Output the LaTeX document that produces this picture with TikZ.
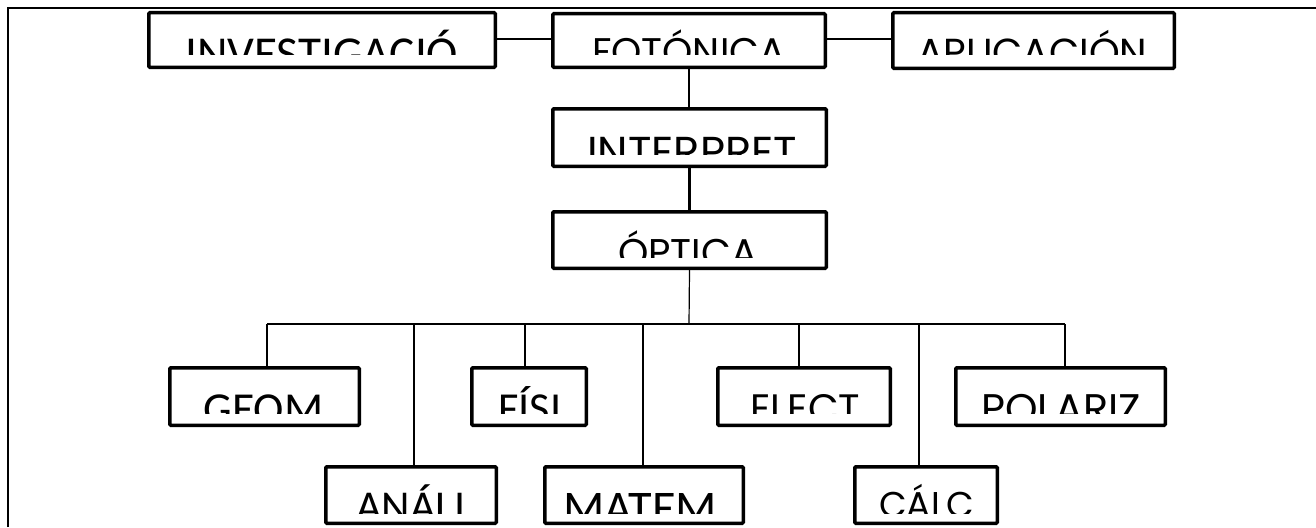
\documentclass[tikz,border=0pt]{standalone}
\usepackage{fontspec}
\setmainfont{Carlito}
\newfontfamily\popfont{Poppins}
\newfontfamily\calfont{Carlito}
\newdimen\twd
\newdimen\tch
% measure (outside the picture): #1 name, #2 font, #3 text, #4 x left, #5 x right, #6 y cap top
\newcommand\prep[6]{%
  \setbox0=\hbox{#2#3}\twd=\wd0
  \setbox0=\hbox{#2H}\tch=\ht0
  \pgfmathsetmacro\tsc{(#5-#4)/\the\twd}%
  \pgfmathsetmacro\tbase{#6+\the\tch*\tsc}%
  \expandafter\xdef\csname sc@#1\endcsname{\tsc}%
  \expandafter\xdef\csname bs@#1\endcsname{\tbase}}
% draw: #1 name, #2 font, #3 text, #4 x left, #5 x right, #6 y cap top, #7 y clip
\newcommand\cliptext[7]{%
  \begin{scope}
    \clip (#4-12,#6-26) rectangle (#5+12,#7);
    \node[anchor=base west,inner sep=0pt] (#1) at (#4,\csname bs@#1\endcsname)
      {\scalebox{\csname sc@#1\endcsname}{#2#3}};
  \end{scope}}
% #1 name, #2 x left, #3 x right, #4 y top, #5 y bottom
\newcommand\boxat[5]{%
  \node[box,minimum width={(#3-#2-3.5)*1pt},minimum height={(#5-#4-3.5)*1pt}]
    (#1) at ({(#2+#3)/2},{(#4+#5)/2}) {};}
\tikzset{
  box/.style={draw,line width=3.5pt,rounded corners=1pt,inner sep=0pt},
  heavy/.style={line width=2.4pt},
  light/.style={line width=1.2pt},
  frame/.style={line width=2pt}
}
\begin{document}
\prep{tinv}{\calfont}{INVESTIGACIÓ}{185}{458}{39}%
\prep{tfot}{\popfont}{FOTÓNICA}{592}{785}{39}%
\prep{tapl}{\popfont}{APLICACIÓN}{917}{1147}{39}%
\prep{tint}{\popfont}{INTERPRET}{587}{797}{137}%
\prep{topt}{\popfont}{ÓPTICA}{618}{757}{240}%
\prep{tgeom}{\calfont}{GEOM}{203}{323}{395}%
\prep{tfis}{\calfont}{FÍSI}{498}{561}{395}%
\prep{telec}{\popfont}{ELECT}{750}{860}{395}%
\prep{tpol}{\popfont}{POLARIZ}{981}{1141}{395}%
\prep{tana}{\calfont}{ANÁLI}{356}{465}{493}%
\prep{tmat}{\calfont}{MATEM}{563}{717}{493}%
\prep{tcalc}{\popfont}{CÁLC}{879}{974}{493}%
\begin{tikzpicture}[x=1pt,y=-1pt]
\useasboundingbox (0,0) rectangle (1316,527);
\draw[frame] (8,527) -- (8,8) -- (1316,8);
% boxes
\boxat{inv}{147}{497}{11}{69}
\boxat{fot}{551}{827}{12}{69}
\boxat{apl}{891}{1176}{11}{70}
\boxat{int}{551}{828}{107}{168}
\boxat{opt}{551}{828}{210}{270}
\boxat{geom}{168}{361}{366}{427}
\boxat{fis}{470}{588}{366}{427}
\boxat{elec}{716}{892}{366}{427}
\boxat{pol}{954}{1167}{366}{427}
\boxat{ana}{324}{498}{465}{525}
\boxat{mat}{543}{745}{465}{525}
\boxat{calc}{853}{999}{465}{525}
% texts (clipped as in the reference)
\cliptext{tinv}{\calfont}{INVESTIGACIÓ}{185}{458}{39}{55}
\cliptext{tfot}{\popfont}{FOTÓNICA}{592}{785}{39}{55}
\cliptext{tapl}{\popfont}{APLICACIÓN}{917}{1147}{39}{55}
\cliptext{tint}{\popfont}{INTERPRET}{587}{797}{137}{154}
\cliptext{topt}{\popfont}{ÓPTICA}{618}{757}{240}{257}
\cliptext{tgeom}{\calfont}{GEOM}{203}{323}{395}{413}
\cliptext{tfis}{\calfont}{FÍSI}{498}{561}{395}{413}
\cliptext{telec}{\popfont}{ELECT}{750}{860}{395}{413}
\cliptext{tpol}{\popfont}{POLARIZ}{981}{1141}{395}{413}
\cliptext{tana}{\calfont}{ANÁLI}{356}{465}{493}{513}
\cliptext{tmat}{\calfont}{MATEM}{563}{717}{493}{513}
\cliptext{tcalc}{\popfont}{CÁLC}{879}{974}{493}{513}
% top row connectors
\draw[heavy] (inv.east |- 0,39) -- (fot.west |- 0,39);
\draw[heavy] (fot.east |- 0,39) -- (apl.west |- 0,39);
% vertical chain
\draw[heavy] (fot.south) -- (fot.south |- int.north);
\draw[heavy] (int.south) -- (int.south |- opt.north);
\coordinate (hub) at (689,324);
\draw[light] (opt.south) -- (hub);
% bus
\coordinate (bgeom) at (267,324);
\coordinate (bana) at (414,324);
\coordinate (bfis) at (525,324);
\coordinate (bmat) at (643,324);
\coordinate (belec) at (799,324);
\coordinate (bcalc) at (919,324);
\coordinate (bpol) at (1065,324);
\draw[light] (bgeom) -- (hub);
\draw[heavy] (hub) -- (bpol);
% branches
\draw[heavy] (bgeom) -- (bgeom |- geom.north);
\draw[light] (bana) -- (bana |- ana.north);
\draw[heavy] (bfis) -- (bfis |- fis.north);
\draw[light] (bmat) -- (bmat |- mat.north);
\draw[heavy] (belec) -- (belec |- elec.north);
\draw[light] (bcalc) -- (bcalc |- calc.north);
\draw[heavy] (bpol) -- (bpol |- pol.north);
\end{tikzpicture}
\end{document}
